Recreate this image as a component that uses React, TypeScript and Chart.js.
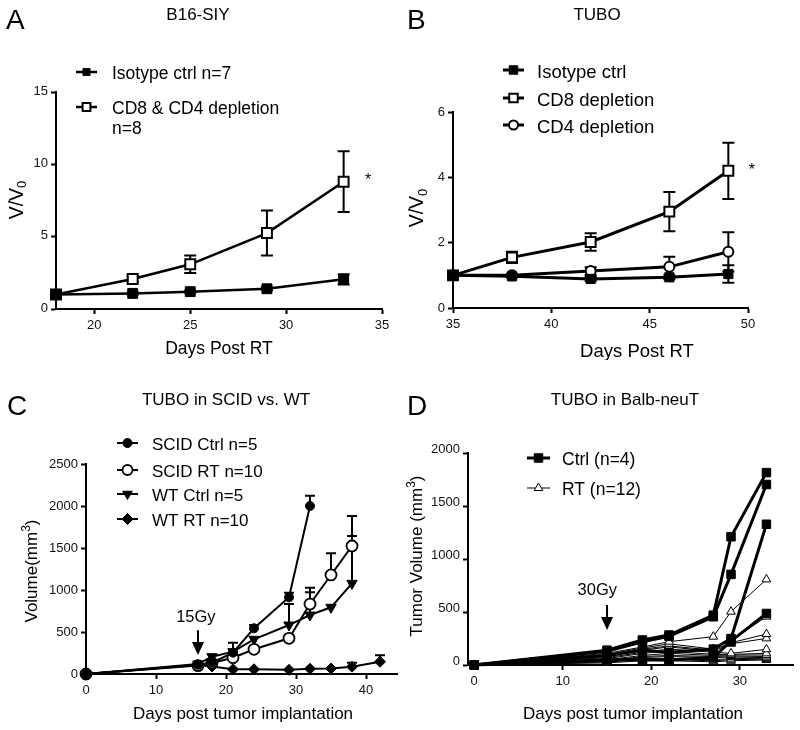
import React, { useEffect, useRef } from "react";
import { Chart, registerables } from "chart.js";
import { drawPoint } from "chart.js/helpers";

Chart.register(...registerables);

const FONT = '"Liberation Sans", Arial, Helvetica, sans-serif';

// ---------- Panel A: B16-SIY ----------
const aDays = [18, 22, 25, 29, 33];
const aIsotype = [1.0, 1.08, 1.2, 1.4, 2.05];
const aIsotypeErr = [0.05, 0.08, 0.08, 0.1, 0.36];
const aDepletion = [1.0, 2.07, 3.09, 5.25, 8.8];
const aDepletionErr = [0.05, 0.22, 0.61, 1.56, 2.1];
const aXTicks = [20, 25, 30, 35];
const aYTicks = [0, 5, 10, 15];

// ---------- Panel B: TUBO ----------
const bDays = [35, 38, 42, 46, 49];
const bIsotype = [1.0, 0.97, 0.89, 0.94, 1.04];
const bIsotypeErr = [0.03, 0.04, 0.06, 0.06, 0.27];
const bCD8 = [1.0, 1.55, 2.02, 2.95, 4.2];
const bCD8Err = [0.03, 0.17, 0.27, 0.6, 0.86];
const bCD4 = [1.0, 1.0, 1.13, 1.26, 1.72];
const bCD4Err = [0.03, 0.04, 0.12, 0.31, 0.6];
const bXTicks = [35, 40, 45, 50];
const bYTicks = [0, 2, 4, 6];

// ---------- Panel C: TUBO in SCID vs. WT ----------
const cScidCtrlDays = [0, 16, 18, 21, 24, 29, 32];
const cScidCtrl = [0, 110, 135, 254, 544, 913, 2000];
const cScidCtrlErr = [0, 0, 0, 0, 39, 55, 122];
const cScidRTDays = [0, 16, 18, 21, 24, 29, 32, 35, 38];
const cScidRT = [0, 100, 130, 194, 294, 425, 833, 1179, 1524];
const cScidRTErr = [0, 0, 0, 0, 0, 40, 195, 258, 357];
const cWtCtrlDays = [0, 16, 18, 21, 24, 29, 32, 35, 38];
const cWtCtrl = [0, 120, 206, 266, 413, 583, 702, 794, 1079];
const cWtCtrlErr = [0, 0, 0, 107, 0, 250, 271, 0, 564];
const cWtRTDays = [0, 16, 18, 21, 24, 29, 32, 35, 38, 42];
const cWtRT = [0, 107, 90, 56, 56, 50, 62, 65, 87, 146];
const cWtRTErr = [0, 0, 0, 0, 0, 0, 0, 0, 48, 76];
const cXTicks = [0, 10, 20, 30, 40];
const cYTicks = [0, 500, 1000, 1500, 2000, 2500];

// ---------- Panel D: TUBO in Balb-neuT ----------
const dDays = [0, 15, 19, 22, 27, 29, 33];
const dCtrl1 = [0, 140, 236, 283, 470, 1210, 1815];
const dCtrl2 = [0, 130, 220, 270, 455, 855, 1703];
const dCtrl3 = [0, 90, 140, 120, 150, 250, 1328];
const dCtrl4 = [0, 50, 50, 47, 70, 225, 486];
const dRT1 = [0, 110, 170, 220, 267, 503, 808];
const dRT2 = [0, 100, 160, 200, 150, 230, 456];
const dRT3 = [0, 90, 150, 180, 140, 210, 292];
const dRT4 = [0, 80, 140, 170, 130, 200, 251];
const dRT5 = [0, 70, 120, 150, 120, 110, 148];
const dRT6 = [0, 60, 110, 130, 100, 100, 110];
const dRT7 = [0, 50, 90, 110, 90, 95, 94];
const dRT8 = [0, 40, 80, 90, 80, 85, 80];
const dRT9 = [0, 40, 70, 80, 70, 75, 70];
const dRT10 = [0, 30, 60, 60, 50, 60, 63];
const dRT11 = [0, 30, 50, 50, 40, 50, 55];
const dRT12 = [0, 20, 40, 40, 30, 40, 47];
const dXTicks = [0, 10, 20, 30];
const dYTicks = [0, 500, 1000, 1500, 2000];

// ---------- helpers ----------
type Part = { t: string; s?: "sub" | "sup" };

function drawRich(ctx: CanvasRenderingContext2D, parts: Part[], x: number, y: number, size: number, rot: number) {
  ctx.save();
  ctx.translate(x, y);
  ctx.rotate(rot);
  ctx.textAlign = "left";
  ctx.textBaseline = "alphabetic";
  const fontFor = (p: Part) => `${p.s ? Math.round(size * 0.68) : size}px ${FONT}`;
  let total = 0;
  for (const p of parts) {
    ctx.font = fontFor(p);
    total += ctx.measureText(p.t).width;
  }
  let cx = -total / 2;
  for (const p of parts) {
    ctx.font = fontFor(p);
    const dy = p.s === "sub" ? size * 0.2 : p.s === "sup" ? -size * 0.42 : 0;
    ctx.fillText(p.t, cx, dy);
    cx += ctx.measureText(p.t).width;
  }
  ctx.restore();
}

const errorBarPlugin = {
  id: "errorBars",
  beforeDatasetDraw(chart: any, args: any) {
    const ds = chart.data.datasets[args.index];
    if (!ds.errors) return;
    const meta = args.meta;
    const yScale = chart.scales[meta.yAxisID];
    const ctx = chart.ctx as CanvasRenderingContext2D;
    ctx.save();
    ctx.strokeStyle = "#000";
    ctx.lineWidth = ds.errorWidth ?? 2;
    const cap = ds.capHalf ?? 6;
    meta.data.forEach((pt: any, i: number) => {
      const e = ds.errors[i];
      if (!e) return;
      const v = ds.data[i].y;
      const x = pt.x;
      const yTop = yScale.getPixelForValue(v + e);
      const yBot = ds.errorMode === "up" ? pt.y : yScale.getPixelForValue(v - e);
      ctx.beginPath();
      ctx.moveTo(x, yTop);
      ctx.lineTo(x, yBot);
      ctx.moveTo(x - cap, yTop);
      ctx.lineTo(x + cap, yTop);
      if (ds.errorMode !== "up") {
        ctx.moveTo(x - cap, yBot);
        ctx.lineTo(x + cap, yBot);
      }
      ctx.stroke();
    });
    ctx.restore();
  },
};

const decorPlugin = {
  id: "decor",
  afterDraw(chart: any, _args: any, o: any) {
    const ctx = chart.ctx as CanvasRenderingContext2D;
    const xs = chart.scales.x;
    const ys = chart.scales.y;
    ctx.save();
    ctx.fillStyle = "#000";
    ctx.strokeStyle = "#000";
    ctx.textBaseline = "alphabetic";
    // panel letter
    ctx.textAlign = "left";
    ctx.font = `28px ${FONT}`;
    ctx.fillText(o.letter, o.letterX, o.letterY);
    // title
    ctx.textAlign = "center";
    ctx.font = `${o.titleSize}px ${FONT}`;
    ctx.fillText(o.title, o.titleX, o.titleY);
    // axis titles
    drawRich(ctx, o.xTitle, o.xTitleX, o.xTitleY, o.xTitleSize, 0);
    drawRich(ctx, o.yTitle, o.yTitleX, o.yTitleY, o.yTitleSize, -Math.PI / 2);
    // legend
    const lg = o.legend;
    lg.rows.forEach((row: any) => {
      const ds = chart.data.datasets[row.ds];
      ctx.strokeStyle = "#000";
      ctx.lineWidth = ds.borderWidth;
      ctx.beginPath();
      ctx.moveTo(lg.x1, row.y);
      ctx.lineTo(lg.x2, row.y);
      ctx.stroke();
      ctx.fillStyle = ds.pointBackgroundColor;
      ctx.lineWidth = ds.pointBorderWidth;
      drawPoint(
        ctx,
        { pointStyle: ds.pointStyle, radius: row.radius, rotation: ds.pointRotation || 0, borderWidth: ds.pointBorderWidth } as any,
        (lg.x1 + lg.x2) / 2,
        row.y
      );
      ctx.fillStyle = "#000";
      ctx.textAlign = "left";
      ctx.font = `${lg.size}px ${FONT}`;
      String(ds.label)
        .split("\n")
        .forEach((line: string, k: number) => {
          ctx.fillText(line, lg.textX, row.y + lg.size * 0.42 + k * lg.gap);
        });
    });
    // notes
    for (const n of o.notes) {
      if (n.kind === "text") {
        ctx.fillStyle = "#000";
        ctx.textAlign = "center";
        ctx.font = `${n.size}px ${FONT}`;
        ctx.fillText(n.text, xs.getPixelForValue(n.x), ys.getPixelForValue(n.y));
      } else if (n.kind === "arrow") {
        const ax = xs.getPixelForValue(n.x);
        const tail = ys.getPixelForValue(n.yTail);
        const tip = ys.getPixelForValue(n.yTip);
        const head = 13;
        ctx.strokeStyle = "#000";
        ctx.lineWidth = 2;
        ctx.beginPath();
        ctx.moveTo(ax, tail);
        ctx.lineTo(ax, tip - head + 1);
        ctx.stroke();
        ctx.fillStyle = "#000";
        ctx.beginPath();
        ctx.moveTo(ax - 6, tip - head);
        ctx.lineTo(ax + 6, tip - head);
        ctx.lineTo(ax, tip);
        ctx.closePath();
        ctx.fill();
      }
    }
    ctx.restore();
  },
};

const Y_AXIS_W = 45;
const X_AXIS_H = 30;
const tickFont = { family: FONT, size: 13 };

function xAxis(min: number, max: number, vals: number[]) {
  return {
    type: "linear",
    min,
    max,
    afterBuildTicks: (s: any) => {
      s.ticks = vals.map((v) => ({ value: v }));
    },
    afterFit: (s: any) => {
      s.height = X_AXIS_H;
    },
    ticks: { autoSkip: false, maxRotation: 0, color: "#111", font: tickFont, padding: 4, callback: (v: any) => String(v) },
    grid: { display: true, drawOnChartArea: false, drawTicks: true, tickLength: 5, tickWidth: 2, tickColor: "#000" },
    border: { display: true, color: "#000", width: 2 },
  };
}

function yAxis(min: number, max: number, vals: number[], labelOffset = 0) {
  return {
    type: "linear",
    min,
    max,
    afterBuildTicks: (s: any) => {
      s.ticks = vals.map((v) => ({ value: v }));
    },
    afterFit: (s: any) => {
      s.width = Y_AXIS_W;
    },
    ticks: { autoSkip: false, color: "#111", font: tickFont, padding: 3, labelOffset, callback: (v: any) => String(v) },
    grid: { display: true, drawOnChartArea: false, drawTicks: true, tickLength: 5, tickWidth: 2, tickColor: "#000" },
    border: { display: true, color: "#000", width: 2 },
  };
}

function mk(style: any) {
  return {
    borderColor: "#000",
    pointBorderColor: "#000",
    tension: 0,
    clip: false,
    fill: false,
    showLine: true,
    ...style,
  };
}

function line(label: string, xs: number[], ys: number[], style: any, errors?: number[], extra: any = {}) {
  return {
    label,
    data: xs.map((x, i) => ({ x, y: ys[i] })),
    errors,
    ...mk(style),
    ...extra,
  };
}

const filledSq = (r: number, lw: number) => ({ pointStyle: "rect", pointRadius: r, pointBackgroundColor: "#000", pointBorderWidth: 1, borderWidth: lw });
const openSq = (r: number, lw: number) => ({ pointStyle: "rect", pointRadius: r, pointBackgroundColor: "#fff", pointBorderWidth: 2, borderWidth: lw });

const dRTs = [dRT1, dRT2, dRT3, dRT4, dRT5, dRT6, dRT7, dRT8, dRT9, dRT10, dRT11, dRT12];
const dCtrls = [dCtrl1, dCtrl2, dCtrl3, dCtrl4];

const panels = [
  {
    left: 0, top: 0, w: 400, h: 360,
    plot: { l: 56, t: 92, r: 382, b: 309 },
    x: xAxis(18, 35, aXTicks),
    y: yAxis(0, 15, aYTicks, -1),
    datasets: [
      line("Isotype ctrl n=7", aDays, aIsotype, filledSq(7, 2.5), aIsotypeErr, { capHalf: 6 }),
      line("CD8 & CD4 depletion\nn=8", aDays, aDepletion, openSq(7, 2.5), aDepletionErr, { capHalf: 6 }),
    ],
    decor: {
      letter: "A", letterX: 6, letterY: 29,
      title: "B16-SIY", titleX: 198, titleY: 20, titleSize: 17,
      xTitle: [{ t: "Days Post RT" }], xTitleX: 219, xTitleY: 354, xTitleSize: 17.5,
      yTitle: [{ t: "V/V" }, { t: "0", s: "sub" }], yTitleX: 22.5, yTitleY: 200, yTitleSize: 19.5,
      legend: { x1: 76, x2: 97, textX: 112, size: 17.5, gap: 20, rows: [{ ds: 0, y: 72, radius: 5 }, { ds: 1, y: 107, radius: 5.5 }] },
      notes: [{ kind: "text", text: "*", x: 34.27, y: 8.6, size: 16 }],
    },
  },
  {
    left: 400, top: 0, w: 400, h: 360,
    plot: { l: 53, t: 112, r: 348, b: 308 },
    x: xAxis(35, 50, bXTicks),
    y: yAxis(0, 6, bYTicks),
    datasets: [
      line("Isotype ctrl", bDays, bIsotype, filledSq(6.5, 3), bIsotypeErr, { capHalf: 6 }),
      line("CD8 depletion", bDays, bCD8, openSq(7, 3), bCD8Err, { capHalf: 6 }),
      line("CD4 depletion", bDays, bCD4, { pointStyle: "circle", pointRadius: 5, pointBackgroundColor: "#fff", pointBorderWidth: 2, borderWidth: 3 }, bCD4Err, { capHalf: 6 }),
    ],
    decor: {
      letter: "B", letterX: 7, letterY: 29,
      title: "TUBO", titleX: 197, titleY: 20, titleSize: 17,
      xTitle: [{ t: "Days Post RT" }], xTitleX: 237, xTitleY: 357, xTitleSize: 18.5,
      yTitle: [{ t: "V/V" }, { t: "0", s: "sub" }], yTitleX: 22.7, yTitleY: 208, yTitleSize: 19.5,
      legend: { x1: 103, x2: 124, textX: 137, size: 18.5, gap: 20, rows: [{ ds: 0, y: 70, radius: 6 }, { ds: 1, y: 98, radius: 6 }, { ds: 2, y: 125, radius: 4.5 }] },
      notes: [{ kind: "text", text: "*", x: 50.2, y: 4.08, size: 16 }],
    },
  },
  {
    left: 0, top: 360, w: 400, h: 370,
    plot: { l: 86, t: 104, r: 397.5, b: 314 },
    x: xAxis(0, 44.5, cXTicks),
    y: yAxis(0, 2500, cYTicks),
    datasets: [
      line("SCID Ctrl n=5", cScidCtrlDays, cScidCtrl, { pointStyle: "circle", pointRadius: 4.5, pointBackgroundColor: "#000", pointBorderWidth: 1, borderWidth: 2 }, cScidCtrlErr, { errorMode: "up", capHalf: 5 }),
      line("SCID RT n=10", cScidRTDays, cScidRT, { pointStyle: "circle", pointRadius: 5.5, pointBackgroundColor: "#fff", pointBorderWidth: 1.8, borderWidth: 2 }, cScidRTErr, { errorMode: "up", capHalf: 5 }),
      line("WT Ctrl n=5", cWtCtrlDays, cWtCtrl, { pointStyle: "triangle", pointRotation: 180, pointRadius: 6, pointBackgroundColor: "#000", pointBorderWidth: 1, borderWidth: 2 }, cWtCtrlErr, { errorMode: "up", capHalf: 5 }),
      line("WT RT n=10", cWtRTDays, cWtRT, { pointStyle: "rectRot", pointRadius: 5.5, pointBackgroundColor: "#000", pointBorderWidth: 1, borderWidth: 2 }, cWtRTErr, { errorMode: "up", capHalf: 5 }),
    ],
    decor: {
      letter: "C", letterX: 7, letterY: 55,
      title: "TUBO in SCID vs. WT", titleX: 226, titleY: 45, titleSize: 17,
      xTitle: [{ t: "Days post tumor implantation" }], xTitleX: 243, xTitleY: 359, xTitleSize: 17,
      yTitle: [{ t: "Volume(mm" }, { t: "3", s: "sup" }, { t: ")" }], yTitleX: 37, yTitleY: 211, yTitleSize: 17,
      legend: { x1: 117, x2: 138, textX: 152, size: 17, gap: 20, rows: [{ ds: 0, y: 83, radius: 4.5 }, { ds: 1, y: 110, radius: 5 }, { ds: 2, y: 134, radius: 5.5 }, { ds: 3, y: 159, radius: 5.5 }] },
      notes: [
        { kind: "text", text: "15Gy", x: 15.7, y: 620, size: 16.5 },
        { kind: "arrow", x: 16, yTail: 520, yTip: 226 },
      ],
    },
  },
  {
    left: 400, top: 360, w: 400, h: 370,
    plot: { l: 68, t: 93, r: 393, b: 305 },
    x: xAxis(-0.7, 36, dXTicks),
    y: yAxis(0, 2000, dYTicks, -4),
    datasets: [
      ...dCtrls.map((v, i) => line(i === 0 ? "Ctrl (n=4)" : `Ctrl ${i + 1}`, dDays, v, filledSq(6, 3))),
      ...dRTs.map((v, i) =>
        line(i === 0 ? "RT (n=12)" : `RT ${i + 1}`, dDays, v, { pointStyle: "triangle", pointRadius: 5, pointBackgroundColor: "#fff", pointBorderWidth: 1, borderWidth: 1 })
      ),
    ],
    decor: {
      letter: "D", letterX: 7, letterY: 55,
      title: "TUBO in Balb-neuT", titleX: 225, titleY: 45, titleSize: 17,
      xTitle: [{ t: "Days post tumor implantation" }], xTitleX: 233, xTitleY: 359, xTitleSize: 17,
      yTitle: [{ t: "Tumor Volume (mm" }, { t: "3", s: "sup" }, { t: ")" }], yTitleX: 22, yTitleY: 196, yTitleSize: 17,
      legend: { x1: 127, x2: 150, textX: 162, size: 17.5, gap: 20, rows: [{ ds: 0, y: 98, radius: 6 }, { ds: 4, y: 128, radius: 5 }] },
      notes: [
        { kind: "text", text: "30Gy", x: 13.9, y: 660, size: 16.5 },
        { kind: "arrow", x: 15, yTail: 566, yTip: 330 },
      ],
    },
  },
];

function Panel({ p }: { p: any }) {
  const ref = useRef<HTMLCanvasElement>(null);
  useEffect(() => {
    const pad = {
      left: p.plot.l - Y_AXIS_W,
      top: p.plot.t,
      right: p.w - p.plot.r,
      bottom: p.h - p.plot.b - X_AXIS_H,
    };
    const chart = new Chart(ref.current as HTMLCanvasElement, {
      type: "line",
      data: { datasets: p.datasets },
      options: {
        responsive: false,
        animation: false,
        events: [],
        devicePixelRatio: 1,
        layout: { padding: pad, autoPadding: false },
        scales: { x: p.x, y: p.y },
        plugins: {
          legend: { display: false },
          tooltip: { enabled: false },
          decor: p.decor,
        },
      } as any,
      plugins: [errorBarPlugin, decorPlugin],
    });
    return () => chart.destroy();
  }, [p]);
  return (
    <canvas
      ref={ref}
      width={p.w}
      height={p.h}
      style={{ position: "absolute", left: p.left, top: p.top, width: p.w, height: p.h }}
    />
  );
}

export default function App() {
  return (
    <div style={{ position: "absolute", left: 0, top: 0, width: 800, height: 730, background: "#fff" }}>
      {panels.map((p, i) => (
        <Panel key={i} p={p} />
      ))}
    </div>
  );
}
